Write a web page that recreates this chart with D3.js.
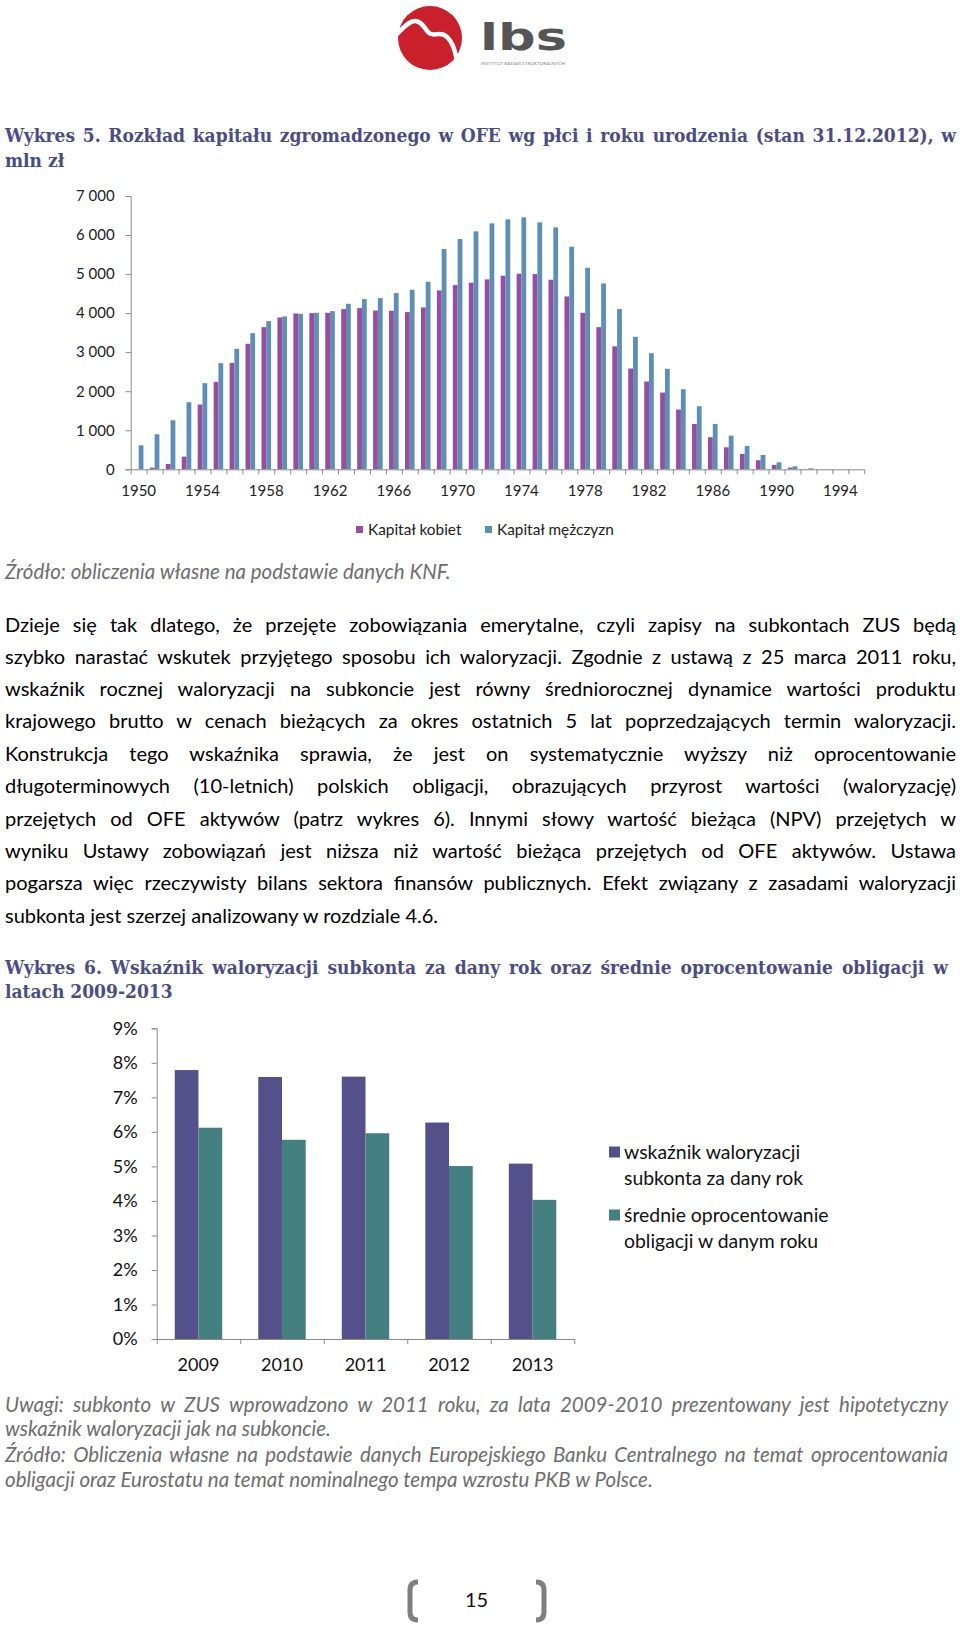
<!DOCTYPE html>
<html><head><meta charset="utf-8">
<script src="https://cdn.jsdelivr.net/npm/d3@7"></script>
<style>body{margin:0;background:#fff} svg{display:block}</style>
</head><body>
<script>
// ---------- DATA ----------
const birthYears = [1950,1951,1952,1953,1954,1955,1956,1957,1958,1959,1960,1961,1962,1963,1964,1965,1966,1967,1968,1969,1970,1971,1972,1973,1974,1975,1976,1977,1978,1979,1980,1981,1982,1983,1984,1985,1986,1987,1988,1989,1990,1991,1992,1993,1994,1995];
const kapitalKobiet = [5,43,137,325,1658,2239,2726,3214,3641,3889,3991,4000,4008,4103,4128,4065,4060,4026,4145,4581,4718,4778,4863,4957,5009,5000,4855,4427,4009,3641,3150,2581,2248,1966,1530,1162,821,564,393,231,111,43,9,2,0,0];
const kapitalMezczyzn = [615,897,1256,1718,2205,2718,3085,3487,3795,3915,3983,4008,4051,4239,4359,4385,4513,4598,4803,5641,5897,6094,6299,6402,6453,6325,6197,5701,5162,4761,4103,3393,2974,2573,2051,1615,1162,863,598,368,179,77,26,5,0,0];
const chart1YTicks = [0,1000,2000,3000,4000,5000,6000,7000];
const chart1XLabels = [1950,1954,1958,1962,1966,1970,1974,1978,1982,1986,1990,1994];
const chart1Series = ["Kapitał kobiet","Kapitał mężczyzn"];

const chart2Years = ["2009","2010","2011","2012","2013"];
const wskaznikWaloryzacji = [7.79,7.59,7.60,6.27,5.08];
const sredniOprocentowanie = [6.12,5.77,5.96,5.01,4.03];
const chart2YTicks = [0,1,2,3,4,5,6,7,8,9];
const chart2Series = [["wskaźnik waloryzacji","subkonta za dany rok"],["średnie oprocentowanie","obligacji w danym roku"]];

const title1 = ["Wykres 5. Rozkład kapitału zgromadzonego w OFE wg płci i roku urodzenia (stan 31.12.2012), w","mln zł"];
const title2 = ["Wykres 6. Wskaźnik waloryzacji subkonta za dany rok oraz średnie oprocentowanie obligacji w","latach 2009-2013"];
const source1 = "Źródło: obliczenia własne na podstawie danych KNF.";
const bodyLines = [
"Dzieje się tak dlatego, że przejęte zobowiązania emerytalne, czyli zapisy na subkontach ZUS będą",
"szybko narastać wskutek przyjętego sposobu ich waloryzacji. Zgodnie z ustawą z 25 marca 2011 roku,",
"wskaźnik rocznej waloryzacji na subkoncie jest równy średniorocznej dynamice wartości produktu",
"krajowego brutto w cenach bieżących za okres ostatnich 5 lat poprzedzających termin waloryzacji.",
"Konstrukcja tego wskaźnika sprawia, że jest on systematycznie wyższy niż oprocentowanie",
"długoterminowych (10-letnich) polskich obligacji, obrazujących przyrost wartości (waloryzację)",
"przejętych od OFE aktywów (patrz wykres 6). Innymi słowy wartość bieżąca (NPV) przejętych w",
"wyniku Ustawy zobowiązań jest niższa niż wartość bieżąca przejętych od OFE aktywów. Ustawa",
"pogarsza więc rzeczywisty bilans sektora finansów publicznych. Efekt związany z zasadami waloryzacji",
"subkonta jest szerzej analizowany w rozdziale 4.6."];
const noteLines = [
"Uwagi: subkonto w ZUS wprowadzono w 2011 roku, za lata 2009-2010 prezentowany jest hipotetyczny",
"wskaźnik waloryzacji jak na subkoncie.",
"Źródło: Obliczenia własne na podstawie danych Europejskiego Banku Centralnego na temat oprocentowania",
"obligacji oraz Eurostatu na temat nominalnego tempa wzrostu PKB w Polsce."];
const pageNumber = "15";

// ---------- PAGE ----------
const W = 960, H = 1628;
const svg = d3.select("body").append("svg").attr("width", W).attr("height", H);
svg.append("rect").attr("width", W).attr("height", H).attr("fill", "#fff");

const SANS = "Lato, 'Open Sans', sans-serif";
const SERIF = "'DejaVu Serif Condensed','DejaVu Serif',serif";

function textLine(str, x, y, opts, target) {
  const t = svg.append("text").attr("x", x).attr("y", y).text(str)
    .attr("font-family", opts.family).attr("font-size", opts.size)
    .attr("fill", opts.fill || "#000");
  if (opts.weight) t.attr("font-weight", opts.weight);
  if (opts.style) t.attr("font-style", opts.style);
  if (opts.stretch) t.style("font-stretch", opts.stretch);
  if (target) {
    const len = t.node().getComputedTextLength();
    const n = (str.match(/ /g) || []).length;
    if (n > 0) t.attr("word-spacing", ((target - len) / n).toFixed(3));
  }
  return t;
}

// ---------- LOGO ----------
const logo = svg.append("g");
logo.append("circle").attr("cx", 430).attr("cy", 38).attr("r", 32).attr("fill", "#c9202b");
logo.append("path")
  .attr("d", "M397,34 C404,27 409,21 415,21 C421,21 424,27 428,32 C431,36 435,34 440,34 C446,34 450,39 453,46 C455,51 456,56 457,61")
  .attr("fill", "none").attr("stroke", "#fff").attr("stroke-width", 4.5).attr("stroke-linecap", "round");
logo.append("text").attr("x", 480).attr("y", 50).text("lbs")
  .attr("font-family", "'DejaVu Sans',sans-serif").attr("font-weight", "bold").attr("font-size", 38)
  .attr("textLength", 87).attr("lengthAdjust", "spacingAndGlyphs").attr("fill", "#555");
logo.append("text").attr("x", 481).attr("y", 65).text("INSTYTUT BADAŃ STRUKTURALNYCH")
  .attr("font-family", SANS).attr("font-size", 4).attr("textLength", 84).attr("lengthAdjust", "spacingAndGlyphs").attr("fill", "#888");

// ---------- TITLES ----------
const titleOpts = {family: SERIF, size: 19, weight: "bold", fill: "#4b4c87", stretch: "condensed"};
textLine(title1[0], 5, 142, titleOpts, 951);
textLine(title1[1], 5, 167, titleOpts);

// ---------- CHART 1 ----------
{
  const x0 = 130.7, x1 = 864.3, yTop = 196, yBot = 469.3;
  const x = d3.scaleBand().domain(birthYears).range([x0, x1]).paddingInner(0).paddingOuter(0);
  const xi = d3.scaleLinear().domain([0, birthYears.length]).range([x0, x1]);
  const y = d3.scaleLinear().domain([0, 7000]).range([yBot, yTop]);
  const g = svg.append("g");
  const bw = x.bandwidth() * 0.3;
  const cols = ["#9b4c9f", "#5b8fb9"];
  [kapitalKobiet, kapitalMezczyzn].forEach((arr, si) => {
    g.append("g").selectAll("rect").data(arr).join("rect")
      .attr("x", (d, i) => x(birthYears[i]) + x.bandwidth() / 2 - bw + si * bw)
      .attr("width", bw)
      .attr("y", d => y(d)).attr("height", d => yBot - y(d))
      .attr("fill", cols[si]);
  });
  const fmt = d => d3.format(",")(d).replace(/,/g, " ");
  const ya = g.append("g").attr("transform", `translate(${x0},0)`)
    .call(d3.axisLeft(y).tickValues(chart1YTicks).tickFormat(fmt).tickSize(5).tickPadding(11));
  ya.selectAll("text").attr("font-family", SANS).attr("font-size", 15).attr("fill", "#222");
  g.append("g").attr("transform", `translate(0,${yBot})`)
    .call(d3.axisBottom(xi).tickValues(d3.range(0, birthYears.length + 1)).tickFormat("").tickSize(5).tickSizeOuter(0));
  const xa = g.append("g").attr("transform", `translate(0,${yBot})`)
    .call(d3.axisBottom(x).tickValues(chart1XLabels).tickSize(0).tickPadding(16));
  xa.select(".domain").remove();
  xa.selectAll("text").attr("font-family", SANS).attr("font-size", 15).attr("fill", "#222");
  g.selectAll(".domain, .tick line").attr("stroke", "#8a8a8a");
  const lx = [356, 485];
  chart1Series.forEach((s, i) => {
    g.append("rect").attr("x", lx[i]).attr("y", 526).attr("width", 7).attr("height", 7).attr("fill", cols[i]);
    g.append("text").attr("x", lx[i] + 12).attr("y", 535).text(s)
      .attr("font-family", SANS).attr("font-size", 15.4).attr("fill", "#222");
  });
}
textLine(source1, 5, 579, {family: SANS, size: 20.5, style: "italic", fill: "#6e6e6e"});

// ---------- BODY ----------
const bodyCenters = [625, 657, 689, 721, 753.5, 785.7, 818.5, 851, 883, 916];
bodyLines.forEach((l, i) => {
  textLine(l, 5, bodyCenters[i] + 7, {family: SANS, size: 20, fill: "#000"}, i < bodyLines.length - 1 ? 951 : null);
});

// ---------- TITLE 2 ----------
textLine(title2[0], 5, 974, titleOpts, 943);
textLine(title2[1], 5, 998, titleOpts);

// ---------- CHART 2 ----------
{
  const x0 = 156.7, x1 = 574.3, yTop = 1028.3, yBot = 1339;
  const x = d3.scaleBand().domain(chart2Years).range([x0, x1]);
  const xi = d3.scaleLinear().domain([0, chart2Years.length]).range([x0, x1]);
  const y = d3.scaleLinear().domain([0, 9]).range([yBot, yTop]);
  const g = svg.append("g");
  const bw = x.bandwidth() * 0.284;
  const cols = ["#53508a", "#43807f"];
  [wskaznikWaloryzacji, sredniOprocentowanie].forEach((arr, si) => {
    g.append("g").selectAll("rect").data(arr).join("rect")
      .attr("x", (d, i) => x(chart2Years[i]) + x.bandwidth() / 2 - bw + si * bw)
      .attr("width", bw)
      .attr("y", d => y(d)).attr("height", d => yBot - y(d))
      .attr("fill", cols[si]);
  });
  const ya = g.append("g").attr("transform", `translate(${x0},0)`)
    .call(d3.axisLeft(y).tickValues(chart2YTicks).tickFormat(d => d + "%").tickSize(5).tickPadding(14));
  ya.selectAll("text").attr("font-family", SANS).attr("font-size", 18).attr("fill", "#111");
  g.append("g").attr("transform", `translate(0,${yBot})`)
    .call(d3.axisBottom(xi).tickValues(d3.range(0, chart2Years.length + 1)).tickFormat("").tickSize(5).tickSizeOuter(0));
  const xa = g.append("g").attr("transform", `translate(0,${yBot})`)
    .call(d3.axisBottom(x).tickSize(0).tickPadding(19));
  xa.select(".domain").remove();
  xa.selectAll("text").attr("font-family", SANS).attr("font-size", 18).attr("fill", "#111");
  g.selectAll(".domain, .tick line").attr("stroke", "#8a8a8a");
  const ly = [1152, 1215];
  chart2Series.forEach((s, i) => {
    g.append("rect").attr("x", 609).attr("y", ly[i] - 5.5).attr("width", 11).attr("height", 11).attr("fill", cols[i]);
    s.forEach((line, j) => {
      g.append("text").attr("x", 624).attr("y", ly[i] + 6.5 + j * 26).text(line)
        .attr("font-family", SANS).attr("font-size", 19.4).attr("fill", "#111");
    });
  });
}

// ---------- NOTES ----------
const noteCenters = [1404.5, 1429, 1455, 1480];
noteLines.forEach((l, i) => {
  textLine(l, 5, noteCenters[i] + 7, {family: SANS, size: 20.5, style: "italic", fill: "#6e6e6e"}, (i === 0 || i === 2) ? 943 : null);
});

// ---------- FOOTER ----------
svg.append("path").attr("d", "M418,1582 Q410,1582 410,1590 L410,1612 Q410,1620 418,1620")
  .attr("fill", "none").attr("stroke", "#7f7f7f").attr("stroke-width", 5);
svg.append("path").attr("d", "M536,1582 Q544,1582 544,1590 L544,1612 Q544,1620 536,1620")
  .attr("fill", "none").attr("stroke", "#7f7f7f").attr("stroke-width", 5);
svg.append("text").attr("x", 476.5).attr("y", 1607).attr("text-anchor", "middle").text(pageNumber)
  .attr("font-family", SANS).attr("font-size", 20).attr("fill", "#111");
</script>
</body></html>
